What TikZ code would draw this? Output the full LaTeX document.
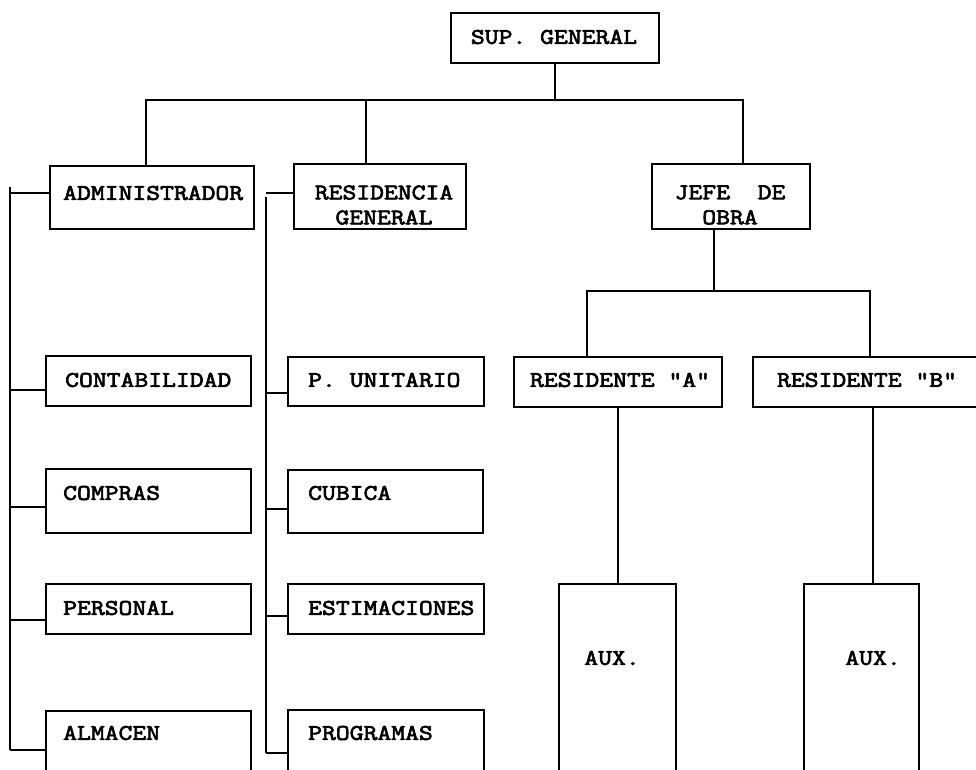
\documentclass[tikz,border=0pt]{standalone}
\usepackage{fontspec}
\setmonofont{Latin Modern Mono}[FakeStretch=1.2,FakeBold=3]
\begin{document}
\begin{tikzpicture}[x=1pt,y=-1pt,
  box/.style={draw, line width=1.8pt, inner sep=0pt, anchor=north west, rectangle},
  lbl/.style={font=\ttfamily\fontsize{22.4}{25}\selectfont, inner sep=0pt},
  wire/.style={line width=1.8pt}]
\useasboundingbox (0,0) rectangle (976,770);
\clip (0,0) rectangle (976,770);
% top
\node[box,minimum width=208,minimum height=50] (sup) at (450,12) {};
\node[lbl] (supT) at (554,37) {SUP. GENERAL};
% second level
\node[box,minimum width=204,minimum height=63] (adm) at (49,165) {};
\node[lbl,anchor=west] (admT) at (63,193) {ADMINISTRADOR};
\node[box,minimum width=172,minimum height=65] (res) at (293,163) {};
\node[lbl,align=center] (resT) at (384,205) {RESIDENCIA\\GENERAL};
\node[box,minimum width=158,minimum height=65] (jefe) at (651,163) {};
\node[lbl,align=center] (jefeT) at (730,205) {JEFE\ \ DE\\OBRA};
% left column
\node[box,minimum width=205,minimum height=50] (contab) at (45,355) {};
\node[lbl,anchor=west] (contabT) at (65,380) {CONTABILIDAD};
\node[box,minimum width=205,minimum height=64] (compras) at (45,468) {};
\node[lbl,anchor=west] (comprasT) at (63,493) {COMPRAS};
\node[box,minimum width=205,minimum height=50] (personal) at (45,583) {};
\node[lbl,anchor=west] (personalT) at (63,608) {PERSONAL};
\node[box,minimum width=205,minimum height=100] (almacen) at (45,710) {};
\node[lbl,anchor=west] (almacenT) at (63,733) {ALMACEN};
% right column
\node[box,minimum width=196,minimum height=49] (punit) at (287,356) {};
\node[lbl,anchor=west] (punitT) at (308,380) {P. UNITARIO};
\node[box,minimum width=195,minimum height=63] (cubica) at (287,469) {};
\node[lbl,anchor=west] (cubicaT) at (308,493) {CUBICA};
\node[box,minimum width=196,minimum height=50] (estim) at (287,583) {};
\node[lbl,anchor=west] (estimT) at (308,608) {ESTIMACIONES};
\node[box,minimum width=196,minimum height=100] (progr) at (287,709) {};
\node[lbl,anchor=west] (progrT) at (308,733) {PROGRAMAS};
% residents
\node[box,minimum width=208,minimum height=50] (resA) at (513,356) {};
\node[lbl] (resAT) at (620,380) {RESIDENTE "A"};
\node[box,minimum width=260,minimum height=50] (resB) at (752,356) {};
\node[lbl] (resBT) at (867,380) {RESIDENTE "B"};
% aux
\node[box,minimum width=117,minimum height=220] (auxA) at (558,583) {};
\node[lbl] (auxAT) at (612,658) {AUX.};
\node[box,minimum width=115,minimum height=220] (auxB) at (803,583) {};
\node[lbl] (auxBT) at (873,658) {AUX.};
% top connectors
\coordinate (busL) at (146,100);
\coordinate (busR) at (743,100);
\draw[wire] (sup.south) -- (sup.south |- busL);
\draw[wire] ([xshift=97pt]adm.north west) -- (busL) -- (busR) -- ([xshift=92pt]jefe.north west);
\path ([xshift=73pt]res.north west) coordinate (rtop);
\draw[wire] (rtop) -- (rtop |- busL);
% left spine
\coordinate (spL) at (10,187);
\coordinate (spLb) at (10,750);
\draw[wire] (spL) -- (spLb);
\foreach \n/\o in {adm/28, contab/35, compras/39, personal/37, almacen/40} {
  \path (\n.north west) ++(0,\o) coordinate (t);
  \draw[wire] (t) -- (t -| spL);
}
% right spine
\coordinate (spR) at (266,197);
\coordinate (spRb) at (266,753);
\draw[wire] (spR) -- (spRb);
\foreach \n/\o in {res/30, punit/37, cubica/40, estim/33, progr/44} {
  \path (\n.north west) ++(0,\o) coordinate (t);
  \draw[wire] (t) -- (t -| spR);
}
% lower right connectors
\coordinate (bus2L) at (587,291);
\coordinate (bus2R) at (870,291);
\path ([xshift=63pt]jefe.south west) coordinate (js);
\draw[wire] (js) -- (js |- bus2L);
\draw[wire] ([xshift=74pt]resA.north west) -- (bus2L) -- (bus2R) -- ([xshift=118pt]resB.north west);
\draw[wire] (resA.south) -- (resA.south |- auxA.north);
\path ([xshift=121pt]resB.south west) coordinate (rb);
\draw[wire] (rb) -- (rb |- auxB.north);
\end{tikzpicture}
\end{document}
